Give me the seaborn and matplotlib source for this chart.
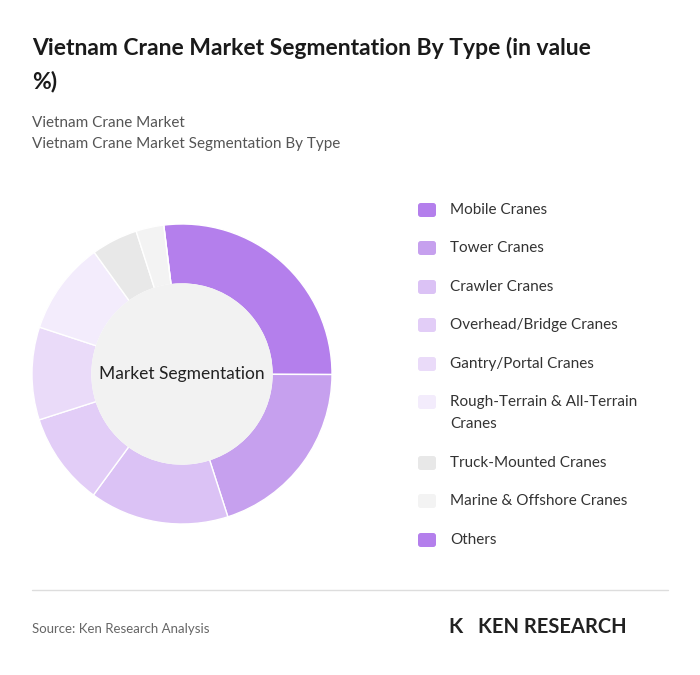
import matplotlib
matplotlib.use("Agg")
import matplotlib.pyplot as plt
import seaborn as sns
from matplotlib.patches import FancyBboxPatch, Circle

sns.set_theme(style="white")
plt.rcParams['font.family'] = ['Lato', 'DejaVu Sans']

categories = ["Mobile Cranes", "Tower Cranes", "Crawler Cranes", "Overhead/Bridge Cranes",
              "Gantry/Portal Cranes", "Rough-Terrain & All-Terrain\nCranes", "Truck-Mounted Cranes",
              "Marine & Offshore Cranes", "Others"]
values = [27, 20, 15, 10, 10, 10, 5, 3, 0]
colors = ["#b47fec", "#c6a0ee", "#dbc2f5", "#e2cdf7", "#eadbf9", "#f3ecfc", "#e8e8e8", "#f3f3f3", "#b47fec"]

fig = plt.figure(figsize=(7, 6.75), dpi=100)
fig.patch.set_facecolor("white")

fig.text(32/700, 1-48/675, "Vietnam Crane Market Segmentation By Type (in value", fontsize=16.5,
         fontweight="bold", color="#1a1a1a", va="center")
fig.text(32/700, 1-82/675, "%)", fontsize=16.5, fontweight="bold", color="#1a1a1a", va="center")
fig.text(32/700, 1-123/675, "Vietnam Crane Market", fontsize=11, color="#555", va="center")
fig.text(32/700, 1-144/675, "Vietnam Crane Market Segmentation By Type", fontsize=11, color="#555", va="center")

ax = fig.add_axes([32/700, (675-524)/675, 300/700, 300/675])
ax.pie(values, colors=colors, startangle=97, counterclock=False, radius=1.0,
       wedgeprops=dict(width=0.4, edgecolor="white", linewidth=1.0))
ax.add_patch(Circle((0, 0), 0.6, color="#f2f2f2", zorder=5))
ax.text(0, 0, "Market Segmentation", ha="center", va="center", fontsize=12.5, color="#222", zorder=6)
ax.set_aspect("equal")
ax.set_xlim(-1, 1); ax.set_ylim(-1, 1)
ax.axis("off")

ys = [210, 248, 287, 325, 364, 402, 463, 501, 540]
for cat, col, y in zip(categories, colors, ys):
    fig.patches.append(FancyBboxPatch((418/700, 1-(y+7)/675), 18/700, 14/675,
                                      boxstyle="round,pad=0,rounding_size=0.004",
                                      transform=fig.transFigure, facecolor=col, edgecolor="none"))
    lines = cat.split("\n")
    for i, ln in enumerate(lines):
        fig.text(450/700, 1-(y + i*22)/675, ln, fontsize=11, color="#333", va="center")

fig.add_artist(plt.Line2D([32/700, 668/700], [1-590/675, 1-590/675], color="#dddddd", lw=1,
                          transform=fig.transFigure))
fig.text(32/700, 1-629/675, "Source: Ken Research Analysis", fontsize=9.5, color="#666", va="center")
fig.text(448/700, 1-627/675, "K", fontsize=15, fontweight="bold", color="#222", va="center")
fig.text(478/700, 1-627/675, "KEN RESEARCH", fontsize=14.5, fontweight="bold", color="#222", va="center")

fig.savefig("out.png", dpi=100, facecolor="white")
